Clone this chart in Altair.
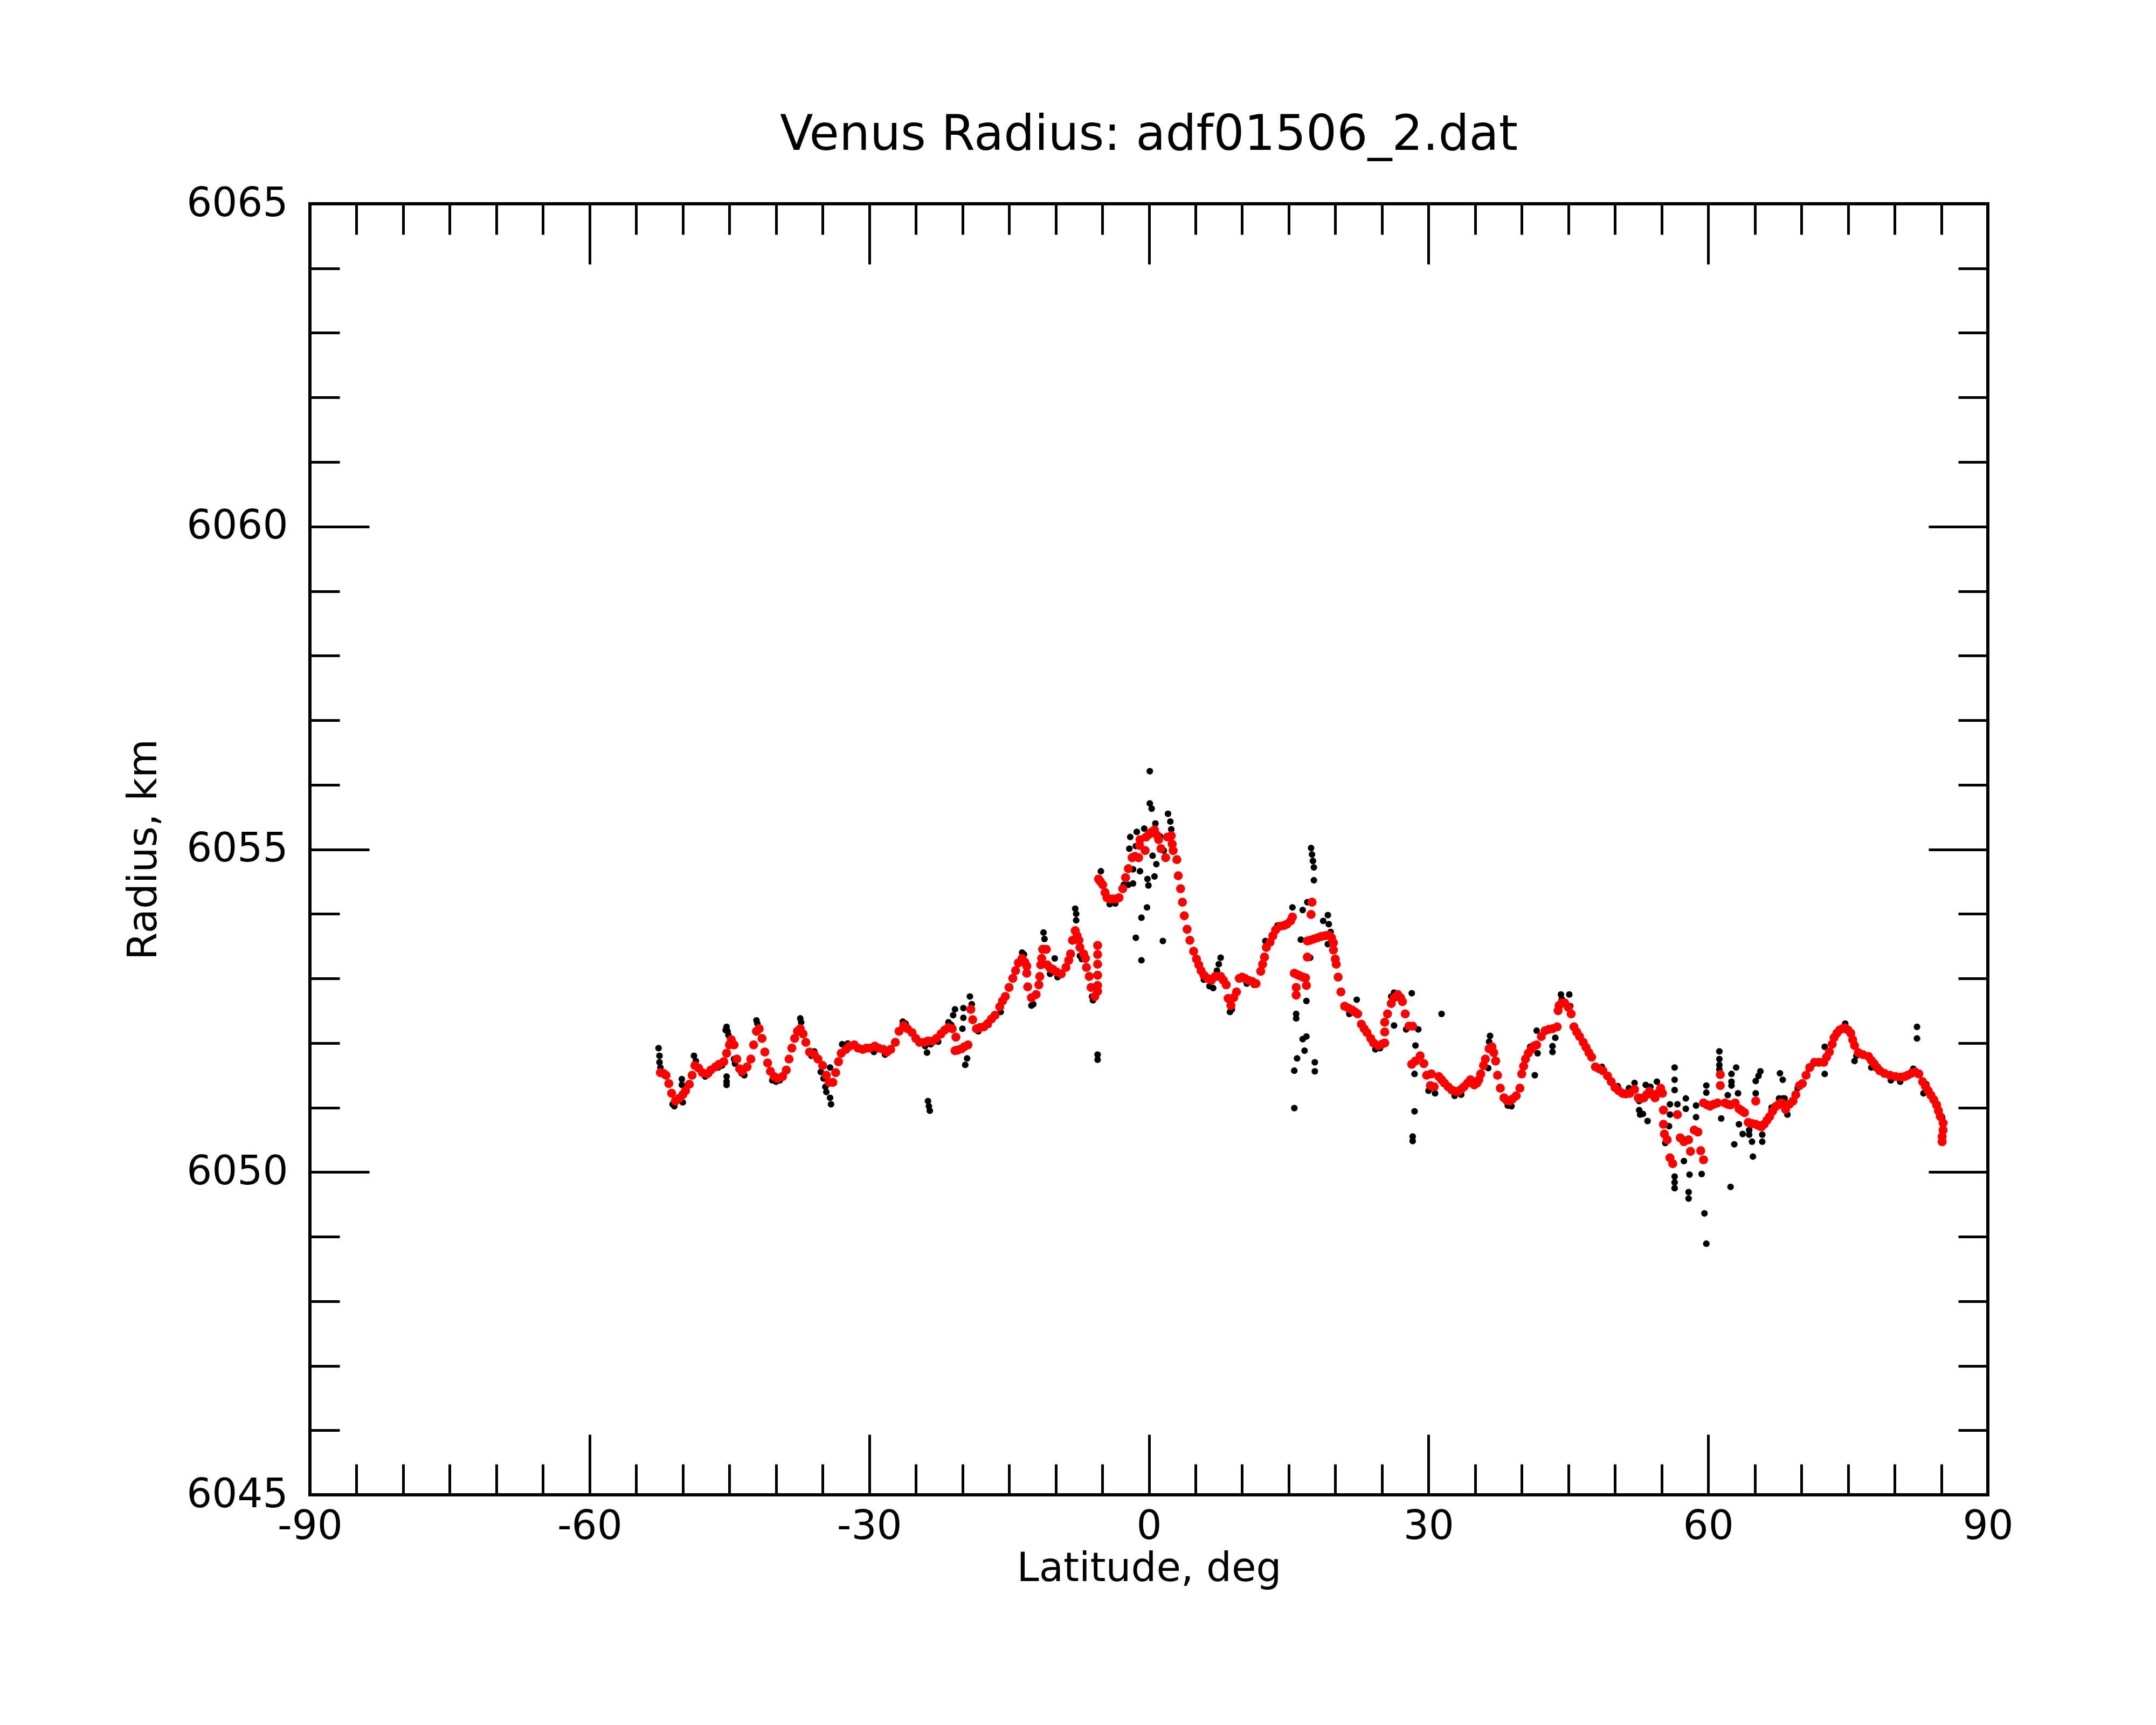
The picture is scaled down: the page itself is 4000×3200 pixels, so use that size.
import altair as alt
import pandas as pd

# ---- smoothed radius (red) ----
red_lat = [
    -52.4, -52.1, -51.8, -51.5, -51.2, -50.8, -50.4, -50.0, -49.7, -49.3, -49.0, -48.7, -48.3, -47.9,
    -47.4, -47.0, -46.5, -46.1, -45.6, -45.3, -45.0, -44.8, -44.5, -44.2, -43.9, -43.6, -43.1, -42.7,
    -42.4, -42.1, -41.8, -41.5, -41.2, -40.9, -40.6, -40.2, -39.8, -39.3, -38.9, -38.6, -38.3, -38.0,
    -37.7, -37.4, -37.1, -36.8, -36.4, -35.9, -35.5, -35.0, -34.6, -34.3, -33.9, -33.6, -33.3, -33.0,
    -32.5, -32.1, -31.6, -31.2, -30.7, -30.3, -29.9, -29.4, -29.0, -28.5, -28.1, -27.7, -27.2, -26.8,
    -26.3, -25.9, -25.4, -25.0, -24.6, -24.1, -23.7, -23.2, -22.8, -22.3, -21.9, -21.5, -21.1,
    -20.8, -20.5, -20.1, -19.8, -19.4, -20.7,
    -19.1, -18.9, -18.5, -18.1, -17.7, -17.3, -16.9, -16.5, -16.0, -15.7, -15.4, -15.0, -14.6, -14.3,
    -14.0, -13.6, -13.3, -13.1, -13.1, -13.0, -12.6, -12.1, -11.8, -11.7, -11.6, -11.5, -11.4, -11.0,
    -10.9, -10.6, -10.3, -9.9, -9.4, -8.9, -8.6, -8.4, -8.2, -7.9, -7.7, -7.5, -7.4, -7.0, -6.8, -6.7,
    -6.4, -6.2, -5.8, -5.5, -5.5, -5.5, -5.5, -5.5, -5.5,
    -5.4, -5.2, -4.95, -4.7, -4.5, -4.2, -3.85, -3.5, -3.2, -2.8, -2.5, -2.2, -1.8, -1.5, -1.1, -1.0,
    -0.95, -0.4, -0.3, 0.0, 0.3, 0.6, 0.85, 1.05, 1.3, 1.8, 2.0, 2.4, 2.5, 2.6, 3.0, 3.15, 3.4, 3.6,
    3.8, 4.1, 4.4, 4.8, 5.1, 5.35, 5.6, 5.9, 6.3, 6.7, 7.1, 7.4, 7.7, 8.0, 8.3, 8.5, 8.8, 9.1, 9.4,
    9.7, 10.0, 10.3, 10.7, 11.1, 11.5, 12.0, 12.2, 12.4, 12.6, 13.0, 13.3, 13.6, 14.1, 14.5, 14.8,
    15.2, 15.4,
    15.6, 15.9, 16.2, 16.5, 16.8, 15.8, 16.9, 15.8, 17.5, 17.4, 17.0,
    17.0, 17.3, 17.7, 18.1, 18.5, 18.9, 19.3, 19.6, 19.8, 19.8, 20.0, 20.1, 20.3, 20.6, 21.0, 21.4,
    21.8, 22.1, 22.4, 22.8, 23.1, 23.4, 23.8, 24.1, 24.6, 25.0, 25.3, 25.3, 25.3, 25.6, 26.0, 26.3,
    26.7, 27.0, 27.2, 27.5, 27.9, 28.3,
    28.2, 28.6, 29.1, 29.5, 29.8, 30.2, 30.3, 30.6, 31.1, 31.4, 31.7, 32.1, 32.5, 32.9, 33.2, 33.5,
    33.8, 34.2, 34.5, 34.9, 35.2, 35.4, 35.6, 35.9, 36.1, 36.5, 36.8, 37.0, 37.2, 37.4, 37.7, 38.1,
    38.4, 38.7, 39.0, 39.4, 39.8, 40.0, 40.2, 40.4, 40.7, 41.0, 41.3, 41.6, 42.1, 42.5, 42.9, 43.3,
    43.8, 43.9, 44.0, 44.3, 44.6, 45.0, 45.3, 45.6, 45.9, 46.2, 46.6, 46.9, 47.2, 47.5, 47.9, 48.3,
    48.7, 49.2, 49.6, 50.0, 50.4, 50.8, 51.2, 51.6, 52.1, 52.5, 52.8, 53.1, 53.4, 53.7, 54.0, 54.3,
    54.6, 54.9, 55.1,
    55.2, 55.2, 55.3, 55.6, 55.9, 56.2, 56.7, 57.0, 57.4, 57.9, 58.1, 58.5, 58.9, 59.2, 59.5,
    59.5, 59.9, 60.2, 60.6, 61.0, 61.3, 61.3, 61.8, 62.1, 62.4, 62.9, 63.3, 63.6, 63.9, 64.3, 64.7,
    65.1, 65.1, 65.4, 65.7, 66.0, 66.3, 66.6, 66.9, 67.2, 67.5, 67.8, 68.0, 68.3, 68.7, 69.1, 69.4,
    69.8, 70.1, 70.5, 70.9, 71.4, 71.9, 72.4, 72.7, 73.0, 73.3, 73.5, 73.8, 74.1, 74.4, 74.7, 75.0,
    75.3, 75.5, 75.7, 76.1, 76.6, 77.2, 77.5, 77.8, 78.1, 78.4, 78.9, 79.5, 80.1, 80.7, 81.1, 81.4,
    81.8, 82.2, 82.6, 83.0, 83.3, 83.6, 83.9, 84.2, 84.5, 84.7, 84.9, 85.2, 85.2, 85.1, 85.1,
]
red_rad = [
    6051.54, 6051.53, 6051.50, 6051.37, 6051.22, 6051.10, 6051.14, 6051.20, 6051.26, 6051.36, 6051.50, 6051.65, 6051.61, 6051.54,
    6051.52, 6051.58, 6051.63, 6051.67, 6051.71, 6051.84, 6051.97, 6052.05, 6051.97, 6051.75, 6051.60, 6051.56, 6051.63, 6051.75,
    6051.97, 6052.18, 6052.22, 6052.07, 6051.86, 6051.69, 6051.56, 6051.48, 6051.45, 6051.48, 6051.58, 6051.75, 6051.92, 6052.07,
    6052.18, 6052.22, 6052.14, 6052.01, 6051.86, 6051.82, 6051.75, 6051.65, 6051.50, 6051.39, 6051.39, 6051.54, 6051.71, 6051.84,
    6051.90, 6051.95, 6051.97, 6051.92, 6051.90, 6051.92, 6051.92, 6051.95, 6051.92, 6051.90, 6051.86, 6051.90, 6052.01, 6052.18,
    6052.27, 6052.22, 6052.16, 6052.07, 6052.01, 6052.01, 6052.03, 6052.03, 6052.07, 6052.14, 6052.20, 6052.24, 6052.22,
    6051.88, 6051.89, 6051.91, 6051.94, 6051.97, 6052.09,
    6052.52, 6052.36, 6052.22, 6052.24, 6052.25, 6052.30, 6052.37, 6052.43, 6052.56, 6052.65, 6052.72, 6052.86, 6053.00, 6053.12,
    6053.24, 6053.31, 6053.25, 6053.19, 6053.08, 6052.87, 6052.70, 6052.75, 6052.90, 6053.03, 6053.21, 6053.31, 6053.45, 6053.45,
    6053.21, 6053.16, 6053.14, 6053.10, 6053.07, 6053.17, 6053.28, 6053.38, 6053.59, 6053.74, 6053.66, 6053.59, 6053.48, 6053.38, 6053.31, 6053.17,
    6053.03, 6052.86, 6052.72, 6053.51, 6053.37, 6053.22, 6053.05, 6052.89, 6052.80,
    6054.54, 6054.50, 6054.45, 6054.33, 6054.25, 6054.23, 6054.23, 6054.23, 6054.25, 6054.39, 6054.56, 6054.70, 6054.87, 6054.89, 6054.87, 6055.06,
    6055.15, 6054.98, 6055.19, 6055.23, 6055.27, 6055.30, 6055.22, 6055.15, 6055.01, 6054.87, 6055.19, 6055.21, 6055.08, 6054.98, 6054.84, 6054.59, 6054.39, 6054.18,
    6053.97, 6053.76, 6053.59, 6053.42, 6053.30, 6053.21, 6053.12, 6053.05, 6053.00, 6052.97, 6053.03, 6053.03, 6053.03, 6052.97, 6052.90, 6052.69, 6052.58, 6052.70, 6052.79,
    6053.00, 6053.02, 6053.00, 6052.97, 6052.95, 6052.92, 6053.11, 6053.22, 6053.33, 6053.48, 6053.56, 6053.66, 6053.75, 6053.81, 6053.82, 6053.84,
    6053.89, 6053.95,
    6053.08, 6053.06, 6053.04, 6053.02, 6053.01, 6052.86, 6052.89, 6052.74, 6054.18, 6053.99, 6053.33,
    6053.58, 6053.59, 6053.61, 6053.63, 6053.65, 6053.66, 6053.67, 6053.63, 6053.55, 6053.44, 6053.30, 6053.22, 6053.02, 6052.79, 6052.57, 6052.54,
    6052.51, 6052.48, 6052.45, 6052.29, 6052.22, 6052.16, 6052.07, 6052.00, 6051.96, 6051.98, 6052.00, 6052.17, 6052.32, 6052.45, 6052.61, 6052.70,
    6052.75, 6052.70, 6052.64, 6052.45, 6052.26, 6052.26,
    6051.67, 6051.72, 6051.80, 6051.68, 6051.50, 6051.34, 6051.52, 6051.32, 6051.48, 6051.43, 6051.38, 6051.32, 6051.27, 6051.25, 6051.25, 6051.28,
    6051.32, 6051.38, 6051.43, 6051.35, 6051.38, 6051.43, 6051.52, 6051.65, 6051.75, 6051.91, 6051.94, 6051.85, 6051.72, 6051.50, 6051.30, 6051.15,
    6051.11, 6051.10, 6051.13, 6051.18, 6051.30, 6051.52, 6051.64, 6051.75, 6051.84, 6051.90, 6051.95, 6051.97, 6052.10, 6052.19, 6052.21, 6052.22,
    6052.25, 6052.50, 6052.58, 6052.62, 6052.62, 6052.55, 6052.45, 6052.25, 6052.17, 6052.10, 6052.01, 6051.93, 6051.85, 6051.78, 6051.63, 6051.60,
    6051.57, 6051.49, 6051.40, 6051.31, 6051.26, 6051.22, 6051.21, 6051.22, 6051.28, 6051.15, 6051.14, 6051.15, 6051.20, 6051.25, 6051.20, 6051.15,
    6051.22, 6051.30, 6051.22,
    6050.96, 6050.74, 6050.59, 6050.50, 6050.22, 6050.13, 6050.89, 6050.53, 6050.47, 6050.50, 6050.32, 6050.65, 6050.62, 6050.33, 6050.19,
    6051.07, 6051.04, 6051.02, 6051.05, 6051.07, 6051.51, 6051.34, 6051.07, 6051.05, 6051.04, 6051.07, 6050.98, 6050.95, 6050.92, 6050.77, 6050.75,
    6050.74, 6051.10, 6050.72, 6050.70, 6050.74, 6050.80, 6050.86, 6050.94, 6051.01, 6051.04, 6051.07, 6051.06, 6050.97, 6051.05, 6051.10, 6051.20,
    6051.34, 6051.37, 6051.50, 6051.62, 6051.70, 6051.70, 6051.70, 6051.78, 6051.86, 6051.98, 6052.08, 6052.15, 6052.20, 6052.22, 6052.23, 6052.20,
    6052.15, 6052.05, 6051.96, 6051.85, 6051.82, 6051.79, 6051.73, 6051.68, 6051.62, 6051.57, 6051.53, 6051.50, 6051.48, 6051.47, 6051.48, 6051.50,
    6051.53, 6051.55, 6051.52, 6051.40, 6051.33, 6051.26, 6051.19, 6051.12, 6051.04, 6050.95, 6050.86, 6050.76, 6050.65, 6050.55, 6050.47,
]

# ---- raw radius samples (black) ----
blk_lat = [
    -52.6, -52.5, -52.5, -52.4, -51.1, -50.9, -50.6, -50.1, -50.1, -50.0, -50.0, -48.8, -48.6,
    -47.6, -47.2, -46.2, -45.8, -45.4, -45.3, -45.2, -45.1, -45.3, -45.3, -45.3, -44.5, -44.4,
    -43.7, -43.4, -42.1, -42.0, -40.4, -40.0, -39.6, -37.4, -37.3, -35.9, -36.2, -35.2, -34.9,
    -34.7, -34.6, -34.2, -34.1, -34.2, -32.9, -32.3, -29.5, -28.3, -26.4, -26.1, -24.0, -23.4,
    -23.7, -23.6, -23.5, -23.8, -22.6, -21.5, -21.2,
    -20.8, -21.0, -19.9, -19.9, -20.0, -19.5, -19.7, -19.2, -19.0, -18.3, -17.2, -15.9,
    -13.6, -13.4, -12.6, -12.4, -11.3, -11.2, -11.3, -10.1, -10.6, -9.8, -7.9, -7.8, -7.8,
    -7.4, -7.2, -6.0, -6.1, -5.5, -5.5, -5.15, -4.2, -3.6,
    -2.7, -2.2, -1.7, -2.1, -1.4, -2.0, -1.3, -0.5, -1.7, 0.1, 0.1, 0.3, 2.05, 2.3, 2.4,
    0.4, 0.8, -0.95, -0.15, -0.05, 0.6, -0.2, -0.8, -1.4, 1.5, -0.8, 0.7, 1.2, 1.6,
    5.9, 6.5, 6.9, 7.5, 7.7, 7.3, 8.7, 8.9, 10.5, 11.3, 12.5, 13.8, 14.3, 15.4,
    17.4, 17.5, 17.6, 17.7, 17.7, 17.0, 16.5, 16.3, 19.2, 19.3, 18.7, 19.5, 19.2, 17.3,
    16.9, 15.8, 15.8, 16.9, 16.5, 16.7, 15.9, 15.6, 17.8, 17.8, 15.6,
    22.3, 21.5, 24.3, 24.8, 26.3, 26.0, 26.3, 27.6, 28.2, 28.9, 31.4, 28.5, 28.5, 28.3,
    28.3, 28.6, 30.0, 30.7, 32.8, 33.5, 36.6, 36.5, 36.4, 38.5, 38.9, 40.9,
    44.2, 45.1, 45.2, 44.3, 41.6, 41.7, 41.4, 43.3, 43.3, 43.6, 48.6,
    50.3, 50.9, 51.5, 52.1, 52.6, 53.3, 53.8, 54.5, 52.7, 53.5, 52.6, 53.0, 55.4,
    56.4, 56.4, 56.4, 55.9, 56.7, 55.9, 55.8, 57.6, 57.6, 57.5, 57.4, 56.4, 56.4, 56.4,
    58.0, 57.9, 57.9, 59.3, 59.6, 59.8, 58.7, 58.7, 59.8, 59.8, 61.2, 61.2, 61.2, 61.2,
    62.4, 62.5, 62.5, 62.5, 63.0, 62.1, 61.4, 62.8, 63.2, 63.3, 63.7, 64.4, 64.4, 64.7,
    64.8, 65.1, 65.6, 65.4, 65.1, 65.8, 65.8, 67.7, 68.0, 68.5, 67.6, 68.2, 66.8, 68.0,
    69.6, 70.8, 72.5, 72.5, 74.7, 75.9, 75.7, 77.5, 79.6, 80.6, 82.0, 82.4, 82.4,
    83.4, 83.1, 84.6, 85.1, 85.2,
]
blk_rad = [
    6051.92, 6051.80, 6051.70, 6051.62, 6051.05, 6051.02, 6051.10, 6051.44, 6051.35, 6051.20, 6051.08, 6051.80, 6051.72,
    6051.48, 6051.52, 6051.62, 6051.65, 6052.20, 6052.25, 6052.18, 6052.12, 6051.48, 6051.40, 6051.35, 6051.75, 6051.68,
    6051.53, 6051.50, 6052.35, 6052.30, 6051.42, 6051.40, 6051.42, 6052.38, 6052.32, 6051.87, 6051.80, 6051.55, 6051.45,
    6051.32, 6051.24, 6051.15, 6051.05, 6051.62, 6051.98, 6051.99, 6051.86, 6051.82, 6052.33, 6052.30, 6051.95, 6051.98,
    6051.10, 6051.02, 6050.95, 6051.85, 6052.02, 6052.32, 6052.28,
    6052.52, 6052.43, 6052.54, 6052.39, 6052.22, 6051.76, 6051.66, 6052.72, 6052.60, 6052.18, 6052.28, 6052.48,
    6053.40, 6053.37, 6052.58, 6052.60, 6053.71, 6053.61, 6053.47, 6053.31, 6053.07, 6053.02, 6054.08, 6054.00, 6053.90,
    6053.35, 6053.30, 6052.66, 6052.72, 6051.82, 6051.74, 6054.66, 6054.15, 6054.16,
    6054.45, 6054.45, 6054.47, 6055.01, 6055.05, 6055.19, 6055.27, 6055.32, 6054.69, 6056.21, 6055.71, 6055.63, 6055.55, 6055.43, 6055.31,
    6054.90, 6054.77, 6054.66, 6054.54, 6054.44, 6054.58, 6054.10, 6053.94, 6053.63, 6053.58, 6053.28, 6055.40, 6055.20, 6054.98,
    6052.98, 6052.88, 6052.85, 6053.22, 6053.32, 6053.12, 6052.48, 6052.52, 6052.92, 6052.90, 6053.58, 6053.82, 6053.80, 6054.10,
    6055.02, 6054.92, 6054.82, 6054.72, 6054.52, 6054.18, 6054.06, 6053.60, 6053.98, 6053.84, 6053.89, 6053.72, 6053.53, 6053.32,
    6052.65, 6052.45, 6052.38, 6052.10, 6052.06, 6051.88, 6051.76, 6051.57, 6051.70, 6051.56, 6050.99,
    6052.67, 6052.45, 6051.90, 6051.92, 6052.78, 6052.72, 6052.27, 6052.21, 6052.77, 6052.21, 6052.45, 6051.52, 6050.94, 6050.55,
    6050.48, 6051.96, 6051.26, 6051.22, 6051.18, 6051.20, 6052.11, 6052.02, 6051.61, 6051.03, 6051.02, 6051.94,
    6052.75, 6052.75, 6052.57, 6052.68, 6052.19, 6051.84, 6051.50, 6051.95, 6051.86, 6052.08, 6051.63,
    6051.33, 6051.20, 6051.30, 6051.38, 6051.10, 6051.35, 6051.32, 6051.40, 6050.89, 6050.79, 6050.96, 6050.90, 6050.45,
    6051.62, 6051.43, 6051.27, 6051.05, 6051.05, 6050.89, 6050.71, 6051.14, 6050.98, 6050.50, 6050.17, 6049.93, 6049.84, 6049.75,
    6049.96, 6049.69, 6049.59, 6049.97, 6049.36, 6048.89, 6051.03, 6050.85, 6051.34, 6051.23, 6051.87, 6051.75, 6051.66, 6051.59,
    6049.77, 6051.52, 6051.40, 6051.34, 6051.62, 6051.19, 6050.83, 6050.43, 6051.22, 6050.74, 6050.59, 6050.65, 6050.58, 6050.47,
    6050.24, 6051.22, 6051.56, 6051.49, 6051.41, 6050.58, 6050.47, 6051.53, 6051.43, 6050.89, 6051.14, 6051.14, 6051.00, 6051.14,
    6051.30, 6051.60, 6051.94, 6051.52, 6052.30, 6051.80, 6051.72, 6051.62, 6051.42, 6051.40, 6051.60, 6052.25, 6052.07,
    6051.36, 6051.22, 6051.05, 6050.85, 6050.62,
]

x_major = [-90, -60, -30, 0, 30, 60, 90]
x_minor = list(range(-90, 91, 5))
y_major = [6045, 6050, 6055, 6060, 6065]
y_minor = list(range(6045, 6066, 1))

W, H = 3113, 2395
FONT = "DejaVu Sans"

red_df = pd.DataFrame({"lat": red_lat, "rad": red_rad})
blk_df = pd.DataFrame({"lat": blk_lat, "rad": blk_rad})

xs = alt.Scale(domain=[-90, 90], nice=False, zero=False)
ys = alt.Scale(domain=[6045, 6065], nice=False, zero=False)

xtick = {"condition": {"test": "datum.value % 30 === 0", "value": 112}, "value": 57}
ytick = {"condition": {"test": "datum.value % 5 === 0", "value": 110}, "value": 55}

lab_x = alt.Axis(orient="bottom", values=x_major, ticks=False, tickSize=0, domain=False, grid=False,
                 labelExpr="toString(datum.value)",
                 labelFont=FONT, labelFontSize=74, labelColor="black", labelPadding=23,
                 labelFlush=False, labelOverlap=False, labelLimit=0,
                 title="Latitude, deg", titleFont=FONT, titleFontSize=74, titleFontWeight="normal",
                 titleColor="black", titlePadding=5)
lab_y = alt.Axis(orient="left", values=y_major, ticks=False, tickSize=0, domain=False, grid=False,
                 labelExpr="toString(datum.value)",
                 labelFont=FONT, labelFontSize=74, labelColor="black", labelPadding=41,
                 labelFlush=False, labelOverlap=False, labelLimit=0,
                 title="Radius, km", titleFont=FONT, titleFontSize=74, titleFontWeight="normal",
                 titleColor="black", titlePadding=70)

def tick_axis(orient, values, size, offset):
    return alt.Axis(orient=orient, values=values, labels=False, domain=False, grid=False,
                    ticks=True, tickSize=size, tickWidth=5, tickColor="black",
                    offset=offset, title=None)

black = alt.Chart(blk_df).mark_circle(size=150, color="black", opacity=1).encode(
    x=alt.X("lat:Q", scale=xs, axis=lab_x),
    y=alt.Y("rad:Q", scale=ys, axis=lab_y),
)

red = alt.Chart(red_df).mark_circle(size=280, color="#ff0000", opacity=1).encode(
    x=alt.X("lat:Q", scale=xs, axis=tick_axis("top", x_minor, xtick, -H)),
    y=alt.Y("rad:Q", scale=ys, axis=tick_axis("right", y_minor, ytick, -W)),
)

ghost = alt.Chart(blk_df).mark_circle(size=1, opacity=0).encode(
    x=alt.X("lat:Q", scale=xs, axis=tick_axis("bottom", x_minor, xtick, -H)),
    y=alt.Y("rad:Q", scale=ys, axis=tick_axis("left", y_minor, ytick, -W)),
)

chart = alt.layer(black, red, ghost).resolve_axis(
    x="independent", y="independent"
).properties(
    width=W, height=H,
    padding={"left": 567, "top": 370, "right": 100, "bottom": 300},
    autosize=alt.AutoSizeParams(type="none"),
    background="white",
    title=alt.TitleParams("Venus Radius: adf01506_2.dat", font=FONT, fontSize=90,
                          fontWeight="normal", color="black", anchor="middle", offset=44),
).configure_view(stroke="black", strokeWidth=6)

chart.save("out.html", embed_options={"renderer": "svg", "actions": False})
